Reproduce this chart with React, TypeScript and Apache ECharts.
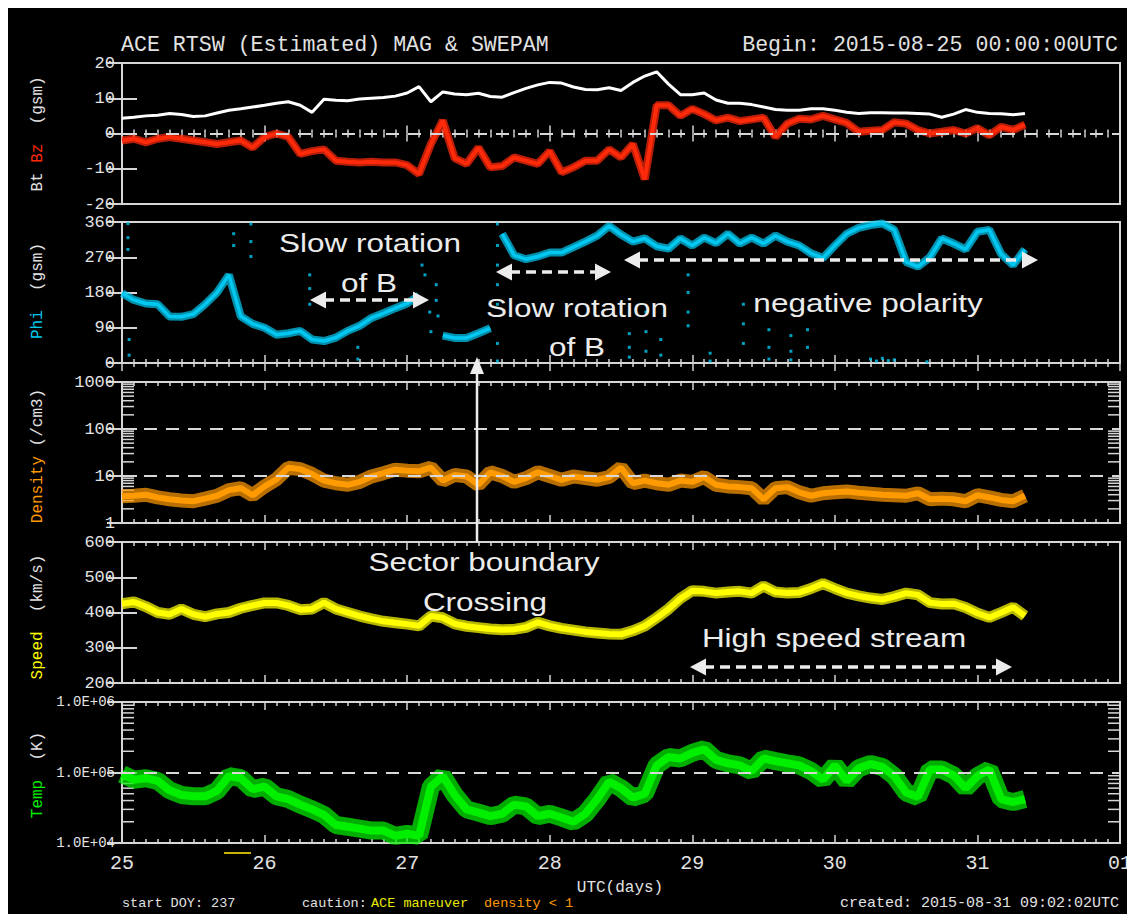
import React, { useEffect, useRef } from 'react';
import * as echarts from 'echarts';

// ---------- data (one value every STEP_H hours from 2015-08-25 00:00 UTC) ----------
const STEP_H = 2;
const DAY_LABELS = ['25', '26', '27', '28', '29', '30', '31', '01'];

const BT = [
  4.3, 4.6, 5, 5.2, 5.7, 5.4, 4.8, 5.0, 5.8, 6.6,
  7, 7.5, 8, 8.6, 9, 8, 6, 9.7, 9.4, 9.3,
  9.8, 10, 10.2, 10.6, 11.5, 13.3, 9, 11.8, 11.2, 11,
  11.4, 10.5, 10.3, 11.6, 12.8, 13.8, 14.5, 14.3, 13.2, 12.5,
  12.4, 13, 12.2, 14.5, 16.3, 17.5, 14, 11, 11, 11.5,
  9.5, 8.6, 8.6, 8.2, 7.5, 6.8, 6.6, 6.6, 7, 7,
  6.6, 6, 5.7, 5.9, 5.9, 5.8, 5.8, 5.7, 5.5, 4.6,
  5.5, 6.8, 6, 5.7, 5.6, 5.3, 5.7,
];

const BZ = [
  -2, -1.5, -2.5, -1.5, -1, -1.5, -2, -2.5, -3, -2.5,
  -2, -4, -1, 0, -1, -5.8, -5, -4.5, -7.7, -8,
  -8.2, -8, -8.2, -8.2, -9, -11.5, -3, 3.7, -7, -8.6,
  -4, -9.6, -9.2, -6.8, -7.7, -8.6, -5, -11, -9.6, -7.7,
  -7.7, -4.5, -6.8, -3, -13, 8, 8, 5, 7, 5.5,
  3.7, 4.5, 3.5, 4, 4.5, -1, 2.8, 4.2, 4, 5,
  4, 3, 0.5, 0.8, 1, 3.2, 2.8, 1, 0, 0.5,
  1, 0, 1.5, -0.5, 1.9, 1, 2.5,
];

const PHI = [
  178, 161, 152, 150, 119, 118, 125, 150, 180, 225,
  119, 100, 90, 72, 76, 82, 60, 56, 65, 82,
  95, 115, 127, 140, 152, 172, null, 70, 64, 64,
  76, 89, 330, 275, 265, 272, 282, 282, 296, 310,
  325, 350, 328, 310, 318, 298, 292, 318, 300, 320,
  306, 330, 305, 320, 305, 325, 310, 300, 280, 268,
  300, 330, 345, 352, 356, 340, 258, 246, 270, 318,
  305, 290, 335, 340, 278, 250, 290,
];
// hour at which Phi wraps through 0/360 (trace is broken there)
const PHI_WRAP_HOURS = [63];

// stray Phi points [hour, deg]
const PHI_STRAY = [
  [1, 356], [1, 320], [1, 290], [1.2, 60], [1.2, 20],
  [18.8, 330], [18.8, 300], [21.7, 355], [21.7, 310], [21.7, 272],
  [31.6, 225], [31.6, 190], [31.6, 150], [39.7, 40], [39.7, 10],
  [50.5, 250], [51, 225], [51.8, 130], [52, 80], [52.9, 200], [52.9, 160], [53.2, 120],
  [63.2, 355], [63.2, 300], [63.2, 250], [63.2, 200], [63.2, 150], [63.2, 50], [63.2, 5],
  [85.4, 75], [85.4, 40], [85.4, 15], [88.2, 130], [88.2, 80], [88.2, 30],
  [90.7, 60], [90.7, 20], [95.3, 225], [95.3, 180], [95.3, 130], [95.3, 95],
  [99, 25], [99, 5], [104.6, 150], [104.6, 100], [104.6, 50],
  [108.9, 85], [108.9, 40], [108.9, 10], [112.6, 70], [112.6, 30], [112.6, 8],
  [115.4, 85], [115.4, 40], [126, 10], [127, 5], [128, 12], [129, 6], [130, 8], [135.5, 3],
];

const DENSITY = [
  3.7, 3.8, 4, 3.5, 3.2, 3.0, 2.9, 3.3, 3.8, 5,
  5.5, 3.9, 6, 8.5, 15, 14, 11, 8, 7, 6.5,
  7.5, 9.8, 11.5, 13.6, 13, 12.6, 15, 8, 10.5, 9.8,
  6.5, 12, 10, 7.5, 9, 12, 10, 8.3, 9.8, 9,
  8.3, 9.5, 15, 7, 8, 7, 6.5, 8, 7.5, 9.5,
  6.5, 6, 5.8, 5.5, 3.2, 5.5, 5.8, 4.5, 3.8, 4.3,
  4.5, 4.7, 4.4, 4.2, 4, 3.9, 3.8, 4.3, 3.2, 3.3,
  3.2, 2.9, 3.9, 3.5, 3.1, 2.9, 3.8,
];

const SPEED = [
  425, 430, 417, 400, 395, 410, 395, 388, 396, 400,
  412, 420, 427, 427, 420, 408, 410, 428, 410, 400,
  390, 382, 375, 371, 367, 362, 390, 385, 368, 361,
  357, 353, 351, 352, 358, 372, 362, 355, 350, 345,
  342, 339, 338, 348, 362, 385, 410, 440, 462, 460,
  455, 458, 460, 455, 475, 458, 455, 457, 468, 482,
  468, 455, 447, 441, 437, 445, 455, 450, 428, 424,
  425, 414, 398, 386, 400, 415, 390,
];

const TEMP = [
  95000, 79000, 83000, 76000, 56000, 48000, 46000, 46000, 55000, 89000,
  83000, 58000, 63000, 46000, 42000, 35000, 30000, 25000, 18000, 17000,
  16000, 15000, 15000, 12600, 13500, 12600, 63000, 89000, 48000, 30000,
  27000, 24000, 26000, 35000, 33000, 24000, 26000, 23000, 20000, 26000,
  42000, 74000, 60000, 44000, 50000, 126000, 166000, 158000, 190000, 214000,
  151000, 135000, 126000, 105000, 158000, 145000, 135000, 126000, 105000, 79000,
  126000, 76000, 115000, 132000, 120000, 89000, 52000, 45000, 110000, 110000,
  91000, 60000, 89000, 110000, 42000, 38000, 42000,
];

const DENSITY_MINOR_TICKS = [2, 3, 4, 5, 6, 7, 8, 9, 20, 30, 40, 50, 60, 70, 80, 90, 200, 300, 400, 500, 600, 700, 800, 900];
const TEMP_MINOR_TICKS = [20000, 30000, 40000, 50000, 60000, 70000, 80000, 90000, 200000, 300000, 400000, 500000, 600000, 700000, 800000, 900000];

// ---------- styling ----------
const MONO = '"Liberation Mono", "DejaVu Sans Mono", monospace';
const SANS = '"Liberation Sans", Arial, sans-serif';
const FG = '#e2e2e2';
const BOX = '#d6d6d6';
const ANN = '#ececec';
const C_BZ = '#ff2a0a';
const C_PHI = '#00c8f0';
const C_DEN = '#ff9a00';
const C_SPD = '#ffff00';
const C_TMP = '#00f000';

const toXY = (vals: (number | null)[], gaps: number[] = []) => {
  const out: any[] = [];
  vals.forEach((v, i) => {
    const h = i * STEP_H;
    gaps.forEach((g) => {
      if (g > h - STEP_H && g < h) out.push([g, null]);
    });
    out.push([h, v]);
  });
  return out;
};

const dashed = (vals: number[]) => ({
  silent: true,
  symbol: ['none', 'none'],
  label: { show: false },
  lineStyle: { color: '#d8d8d8', type: [13, 9], width: 2 },
  data: vals.map((v) => ({ yAxis: v })),
});

// a trace drawn as a semi-opaque spread band (the scatter cloud) plus a solid core
function trace(name: string, axis: number, data: any[], color: string, halo: number, core: number, extra: any = {}) {
  const out: any[] = [];
  if (halo > 0) {
    out.push({
      type: 'line', name: name + ' spread', xAxisIndex: axis, yAxisIndex: axis, data,
      showSymbol: false, silent: true, connectNulls: false,
      lineStyle: { color, width: halo, opacity: 0.72 },
      itemStyle: { color },
    });
  }
  out.push({
    type: 'line', name, xAxisIndex: axis, yAxisIndex: axis, data,
    showSymbol: false, connectNulls: false,
    lineStyle: { color, width: core },
    itemStyle: { color },
    ...extra,
  });
  return out;
}

function hArrow(x1: number, x2: number, y: number) {
  const L = 16;
  const H = 8.5;
  return [
    { type: 'line', z: 60, shape: { x1: x1 + L - 2, y1: y, x2: x2 - L + 2, y2: y }, style: { stroke: ANN, lineWidth: 3.5, lineDash: [10, 6] } },
    { type: 'polygon', z: 60, shape: { points: [[x1, y], [x1 + L, y - H], [x1 + L, y + H]] }, style: { fill: ANN } },
    { type: 'polygon', z: 60, shape: { points: [[x2, y], [x2 - L, y - H], [x2 - L, y + H]] }, style: { fill: ANN } },
  ];
}

function note(text: string, x: number, y: number) {
  return {
    type: 'text', z: 60, x, y, scaleX: 1.26,
    style: {
      text, fill: ANN, fontFamily: SANS, fontSize: 25,
      align: 'center', verticalAlign: 'middle', textAlign: 'center', textVerticalAlign: 'middle',
    },
  };
}

function plain(text: string, x: number, y: number, size: number, color: string, align = 'left') {
  return {
    type: 'text', z: 60, x, y,
    style: {
      text, fill: color, fontFamily: MONO, fontSize: size,
      align, verticalAlign: 'middle', textAlign: align, textVerticalAlign: 'middle',
    },
  };
}

function sideLabel(parts: [string, string][], x: number, y: number) {
  const rich: any = {};
  const text = parts
    .map(([t, c], i) => {
      rich['p' + i] = { fill: c, color: c, fontFamily: MONO, fontSize: 16 };
      return '{p' + i + '|' + t + '}';
    })
    .join('');
  return {
    type: 'text', z: 60, x, y, rotation: Math.PI / 2,
    style: {
      text, rich, fill: FG, fontFamily: MONO, fontSize: 16,
      align: 'center', verticalAlign: 'middle', textAlign: 'center', textVerticalAlign: 'middle',
    },
  };
}

const logTickSeries = (axisIdx: number, ticks: number[]) => ({
  type: 'custom',
  xAxisIndex: axisIdx,
  yAxisIndex: axisIdx,
  silent: true,
  clip: false,
  data: ticks.map((v) => [0, v]),
  encode: { x: 0, y: 1 },
  renderItem: (params: any, api: any) => {
    const y = api.coord([0, api.value(1)])[1];
    const cs = params.coordSys;
    return {
      type: 'group',
      children: [
        { type: 'line', shape: { x1: cs.x, y1: y, x2: cs.x + 12, y2: y }, style: { stroke: BOX, lineWidth: 1.5 } },
        { type: 'line', shape: { x1: cs.x + cs.width - 12, y1: y, x2: cs.x + cs.width, y2: y }, style: { stroke: BOX, lineWidth: 1.5 } },
      ],
    };
  },
});

export default function App() {
  const ref = useRef<HTMLDivElement>(null);

  useEffect(() => {
    const chart = echarts.init(ref.current!, null, { renderer: 'svg' });
    const tops = [55, 214, 374, 534, 694];

    const grid = tops.map((t) => ({
      left: 114, top: t, width: 998, height: 141,
      show: true, borderColor: BOX, borderWidth: 2, backgroundColor: 'transparent',
    }));

    const xAxis: any[] = [];
    tops.forEach((_, gi) => {
      ['bottom', 'top'].forEach((pos) => {
        const withLabels = gi === 4 && pos === 'bottom';
        xAxis.push({
          type: 'value', gridIndex: gi, position: pos, min: 0, max: 168, interval: 24,
          axisLine: { show: false },
          axisTick: { show: true, inside: true, length: 8, lineStyle: { color: BOX, width: 1.5 } },
          minorTick: { show: true, splitNumber: 12, length: 4, lineStyle: { color: BOX, width: 1.5 } },
          splitLine: { show: false },
          minorSplitLine: { show: false },
          axisLabel: withLabels
            ? {
                show: true, color: FG, fontFamily: MONO, fontSize: 20, margin: 10,
                showMinLabel: true, showMaxLabel: true,
                formatter: (v: number) => DAY_LABELS[Math.round(v / 24)] ?? '',
              }
            : { show: false },
        });
      });
    });

    const yConf: any[] = [
      { type: 'value', min: -20, max: 20, interval: 10 },
      { type: 'value', min: 0, max: 360, interval: 90 },
      { type: 'log', logBase: 10, min: 1, max: 1000 },
      { type: 'value', min: 200, max: 600, interval: 100 },
      { type: 'log', logBase: 10, min: 10000, max: 1000000 },
    ];
    const yAxis: any[] = [];
    yConf.forEach((c, gi) => {
      ['left', 'right'].forEach((pos) => {
        yAxis.push({
          ...c,
          gridIndex: gi,
          position: pos,
          axisLine: { show: false },
          axisTick: { show: true, inside: true, length: 15, lineStyle: { color: BOX, width: 2 } },
          splitLine: { show: false },
          axisLabel:
            pos === 'left'
              ? {
                  show: true, color: FG, fontFamily: MONO,
                  fontSize: gi === 4 ? 14 : 17, margin: 7,
                  showMinLabel: true, showMaxLabel: true,
                  formatter:
                    gi === 4
                      ? (v: number) => '1.0E+' + String(Math.round(Math.log10(v))).padStart(2, '0')
                      : (v: number) => String(v),
                }
              : { show: false },
        });
      });
    });

    const series: any[] = [
      ...trace('Bz', 0, toXY(BZ), C_BZ, 8, 4, { markLine: dashed([0]) }),
      ...trace('Bt', 0, toXY(BT), '#ffffff', 0, 3),
      ...trace('Phi', 2, toXY(PHI, PHI_WRAP_HOURS), C_PHI, 8, 3.5),
      {
        type: 'scatter', name: 'Phi stray', xAxisIndex: 2, yAxisIndex: 2, data: PHI_STRAY,
        symbol: 'rect', symbolSize: 3, itemStyle: { color: C_PHI },
      },
      ...trace('Density', 4, toXY(DENSITY), C_DEN, 14, 6, { markLine: dashed([10, 100]) }),
      logTickSeries(4, DENSITY_MINOR_TICKS),
      ...trace('Speed', 6, toXY(SPEED), C_SPD, 11, 6),
      ...trace('Temp', 8, toXY(TEMP), C_TMP, 18, 8, { markLine: dashed([100000]) }),
      logTickSeries(8, TEMP_MINOR_TICKS),
    ];

    const graphic: any[] = [
      plain('ACE RTSW (Estimated) MAG & SWEPAM', 113, 37, 21.6, FG, 'left'),
      plain('Begin: 2015-08-25 00:00:00UTC', 1110, 37, 21.6, FG, 'right'),
      sideLabel([['Bt ', FG], ['Bz', C_BZ], ['  (gsm)', FG]], 30, 126),
      sideLabel([['Phi', C_PHI], ['  (gsm)', FG]], 30, 283),
      sideLabel([['Density', C_DEN], [' (/cm3)', FG]], 30, 448),
      sideLabel([['Speed', C_SPD], ['  (km/s)', FG]], 30, 609),
      sideLabel([['Temp', C_TMP], ['  (K)', FG]], 30, 767),
      plain('UTC(days)', 612, 880, 16, FG, 'center'),
      plain('start DOY: 237', 114, 895, 13.5, FG, 'left'),
      plain('caution:', 294, 895, 13.5, FG, 'left'),
      plain('ACE maneuver', 363, 895, 13.5, '#e8e800', 'left'),
      plain('density < 1', 476, 895, 13.5, C_DEN, 'left'),
      plain('created: 2015-08-31 09:02:02UTC', 1111, 895, 15, FG, 'right'),
      { type: 'line', z: 60, shape: { x1: 216, y1: 845, x2: 243, y2: 845 }, style: { stroke: '#c8b400', lineWidth: 2 } },
      note('Slow rotation', 362, 235),
      note('of B', 361, 275),
      ...hArrow(302, 421, 292),
      note('Slow rotation', 569, 300),
      note('of B', 569, 339),
      ...hArrow(488, 603, 264),
      ...hArrow(616, 1030, 252),
      note('negative polarity', 860, 295),
      { type: 'line', z: 60, shape: { x1: 469, y1: 360, x2: 469, y2: 534 }, style: { stroke: ANN, lineWidth: 2.5 } },
      { type: 'polygon', z: 60, shape: { points: [[469, 349], [462, 366], [476, 366]] }, style: { fill: ANN } },
      note('Sector boundary', 476, 554),
      note('Crossing', 477, 594),
      note('High speed stream', 826, 630),
      ...hArrow(682, 1004, 659),
    ];

    chart.setOption({
      animation: false,
      backgroundColor: '#000000',
      grid,
      xAxis,
      yAxis,
      series,
      graphic,
    });

    return () => chart.dispose();
  }, []);

  return <div ref={ref} style={{ width: 1127, height: 906, background: '#000' }} />;
}
